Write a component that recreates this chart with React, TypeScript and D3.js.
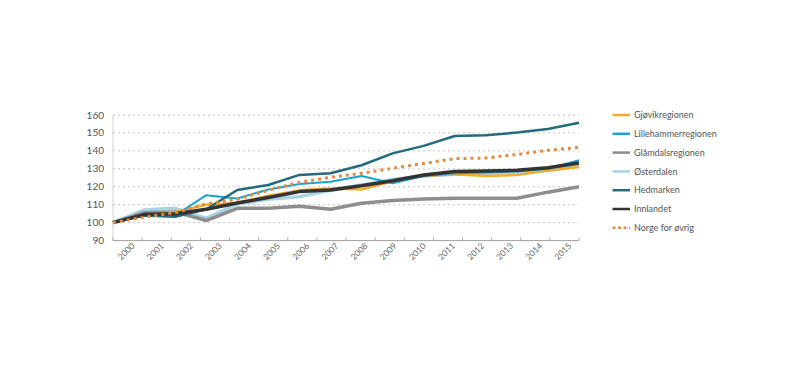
import React from "react";
import * as d3 from "d3";

const years = ["2000","2001","2002","2003","2004","2005","2006","2007","2008","2009","2010","2011","2012","2013","2014","2015"];
const yTicks = [90, 100, 110, 120, 130, 140, 150, 160];

const gjovik = [100, 104, 106, 110, 111, 115, 118, 119, 118.5, 123, 126, 127, 126, 126.5, 129, 131];
const lillehammer = [100, 104.5, 104, 115.3, 113.5, 118.5, 121.5, 122.8, 126, 122, 126, 127.5, 128, 128.5, 130, 134.8];
const glamdal = [100, 105.5, 106, 101.2, 108, 108, 109.2, 107.5, 110.8, 112.3, 113.2, 113.6, 113.6, 113.6, 117, 120];
const osterdalen = [100, 107, 108, 102.4, 110.5, 113, 114.5, 118, 121, 124, 126, 127, 127.5, 128, 129, 131.5];
const hedmarken = [100, 104, 103.3, 107.5, 118.2, 121, 126.6, 127.5, 132, 138.6, 142.8, 148.3, 148.7, 150.2, 152.2, 155.7];
const innlandet = [100, 104.5, 105, 107.5, 111, 114, 117.3, 118.2, 120.6, 123.4, 126.6, 128.5, 128.8, 129.2, 130.6, 133.2];
const norge = [100, 103, 105.5, 110.5, 113, 118, 122.5, 125.3, 127.5, 130.3, 133, 135.7, 136, 138, 140.3, 142];

const legendNames = ["Gjøvikregionen", "Lillehammerregionen", "Glåmdalsregionen", "Østerdalen", "Hedmarken", "Innlandet", "Norge for øvrig"];
const legendColors = ["#f2ac2e", "#1ba3d1", "#8e8e8e", "#a6d3e8", "#236a7e", "#333333", "#e38b3f"];

export default function App() {
  const W = 812, H = 375;
  const x0 = 113, x1 = 579;
  const x = d3.scaleLinear().domain([0, years.length - 1]).range([x0, x1]);
  const tickX = d3.scaleLinear().domain([0, years.length]).range([x0, x1]);
  const y = d3.scaleLinear().domain([90, 160]).range([240.6, 115]);
  const line = d3.line<number>().x((_, i) => x(i)).y((v) => y(v));

  const series = [
    { data: osterdalen, color: legendColors[3], w: 3.5, dash: undefined },
    { data: glamdal, color: legendColors[2], w: 3.5, dash: undefined },
    { data: gjovik, color: legendColors[0], w: 2.5, dash: undefined },
    { data: lillehammer, color: legendColors[1], w: 2, dash: undefined },
    { data: hedmarken, color: legendColors[4], w: 2.5, dash: undefined },
    { data: innlandet, color: legendColors[5], w: 3.5, dash: undefined },
    { data: norge, color: legendColors[6], w: 3, dash: "3,4" },
  ];

  const font = "Lato, 'Open Sans', sans-serif";

  return (
    <svg width={W} height={H} style={{ position: "absolute", left: 0, top: 0, background: "#fff" }} fontFamily={font}>
      {yTicks.filter((t) => t > 90).map((t) => (
        <line key={t} x1={x0} x2={x1} y1={y(t)} y2={y(t)} stroke="#b5b5b5" strokeWidth={0.8} strokeDasharray="2,3" />
      ))}
      <line x1={x0} x2={x0} y1={y(160)} y2={y(90)} stroke="#c8c8c8" strokeWidth={0.8} />
      <line x1={x0} x2={x1} y1={y(90)} y2={y(90)} stroke="#a0a0a0" strokeWidth={1} />
      {d3.range(years.length + 1).map((i) => (
        <line key={i} x1={tickX(i)} x2={tickX(i)} y1={y(90)} y2={y(90) - 3.5} stroke="#a0a0a0" strokeWidth={0.8} />
      ))}
      {yTicks.map((t) => (
        <text key={t} x={104} y={y(t)} dy="0.35em" textAnchor="end" fontSize={10} fill="#555">{t}</text>
      ))}
      {years.map((yr, i) => {
        const cx = (tickX(i) + tickX(i + 1)) / 2 - 1.5;
        const cy = 251.5;
        return (
          <text key={yr} x={cx} y={cy} dy="0.35em" textAnchor="middle" fontSize={8.5} fill="#666" transform={`rotate(-45 ${cx} ${cy})`}>{yr}</text>
        );
      })}
      {series.map((s, i) => (
        <path key={i} d={line(s.data) || ""} fill="none" stroke={s.color} strokeWidth={s.w} strokeDasharray={s.dash} strokeLinejoin="round" />
      ))}
      {legendNames.map((n, i) => {
        const ly = 115 + i * 18.8;
        return (
          <g key={n}>
            <line x1={612.5} x2={630} y1={ly} y2={ly} stroke={legendColors[i]} strokeWidth={2.5} strokeDasharray={i === 6 ? "3,2.5" : undefined} />
            <text x={634} y={ly} dy="0.35em" fontSize={9} fill="#555">{n}</text>
          </g>
        );
      })}
    </svg>
  );
}
